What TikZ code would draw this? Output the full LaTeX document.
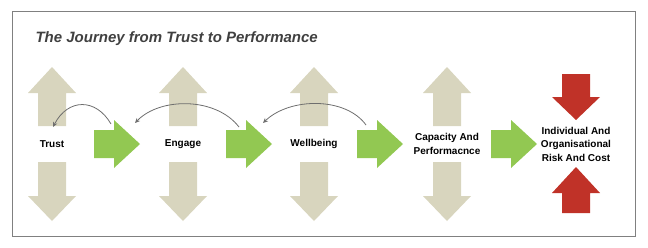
\documentclass[tikz,border=0pt]{standalone}
\usepackage{fontspec}
\setmainfont{Liberation Sans}
\usetikzlibrary{arrows.meta}

\definecolor{framegray}{RGB}{128,128,128}
\definecolor{titlegray}{RGB}{64,64,64}
\definecolor{sandbeige}{RGB}{216,213,190}
\definecolor{leafgreen}{RGB}{146,200,82}
\definecolor{riskred}{RGB}{192,50,40}
\definecolor{loopgray}{RGB}{110,110,110}

\tikzset{
  stagelabel/.style={font=\fontsize{10}{13.5}\selectfont\bfseries, align=center, text=black},
  loopback/.style={loopgray, line width=0.8pt, -{Stealth[length=5pt,width=4.5pt]}}
}

\begin{document}
\begin{tikzpicture}[x=1pt, y=-1pt]
    \useasboundingbox (0,0) rectangle (648,247);
    \draw[framegray, line width=0.9pt] (12,11) rectangle (635,236);
    \node[anchor=west, text=titlegray, font=\fontsize{15}{18}\selectfont\bfseries\itshape] (title) at (32,39) {The Journey from Trust to Performance};

    % beige up and down arrows
    \foreach \c in {52,183,314,447} {
        \fill[sandbeige] (\c-14,126) -- (\c-14,93) -- (\c-24,93) -- (\c,67) -- (\c+24,93) -- (\c+14,93) -- (\c+14,126) -- cycle;
        \fill[sandbeige] (\c-14,162) -- (\c-14,196) -- (\c-24,196) -- (\c,221) -- (\c+24,196) -- (\c+14,196) -- (\c+14,162) -- cycle;
    }

    % red arrows pointing inwards
    \fill[riskred] (562,74) -- (590,74) -- (590,97) -- (600,97) -- (576,120) -- (552,97) -- (562,97) -- cycle;
    \fill[riskred] (562,213) -- (590,213) -- (590,193) -- (600,193) -- (576,167) -- (552,193) -- (562,193) -- cycle;

    % green arrows
    \foreach \s in {94,226,357,491} {
        \fill[leafgreen] (\s,130) -- (\s+20,130) -- (\s+20,120) -- (\s+46,144) -- (\s+20,168) -- (\s+20,158) -- (\s,158) -- cycle;
    }

    \node[stagelabel] (trust) at (52,144) {Trust};
    \node[stagelabel] (engage) at (183,144) {Engage};
    \node[stagelabel] (wellbeing) at (314,144) {Wellbeing};
    \node[stagelabel] (capacity) at (447,144) {Capacity And\\Performacnce};
    \node[stagelabel] (risk) at (576,144) {Individual And\\Organisational\\Risk And Cost};

    \coordinate (engageout) at (111,124);
    \coordinate (trustin) at (53,127);
    \coordinate (wellout) at (239,127);
    \coordinate (engagein) at (135,123);
    \coordinate (capout) at (366,125);
    \coordinate (wellin) at (263,123);

    \draw[loopback] (engageout) .. controls (96,98) and (68,98) .. (trustin);
    \draw[loopback] (wellout) .. controls (216,97) and (160,97) .. (engagein);
    \draw[loopback] (capout) .. controls (346,97) and (290,97) .. (wellin);
\end{tikzpicture}
\end{document}
